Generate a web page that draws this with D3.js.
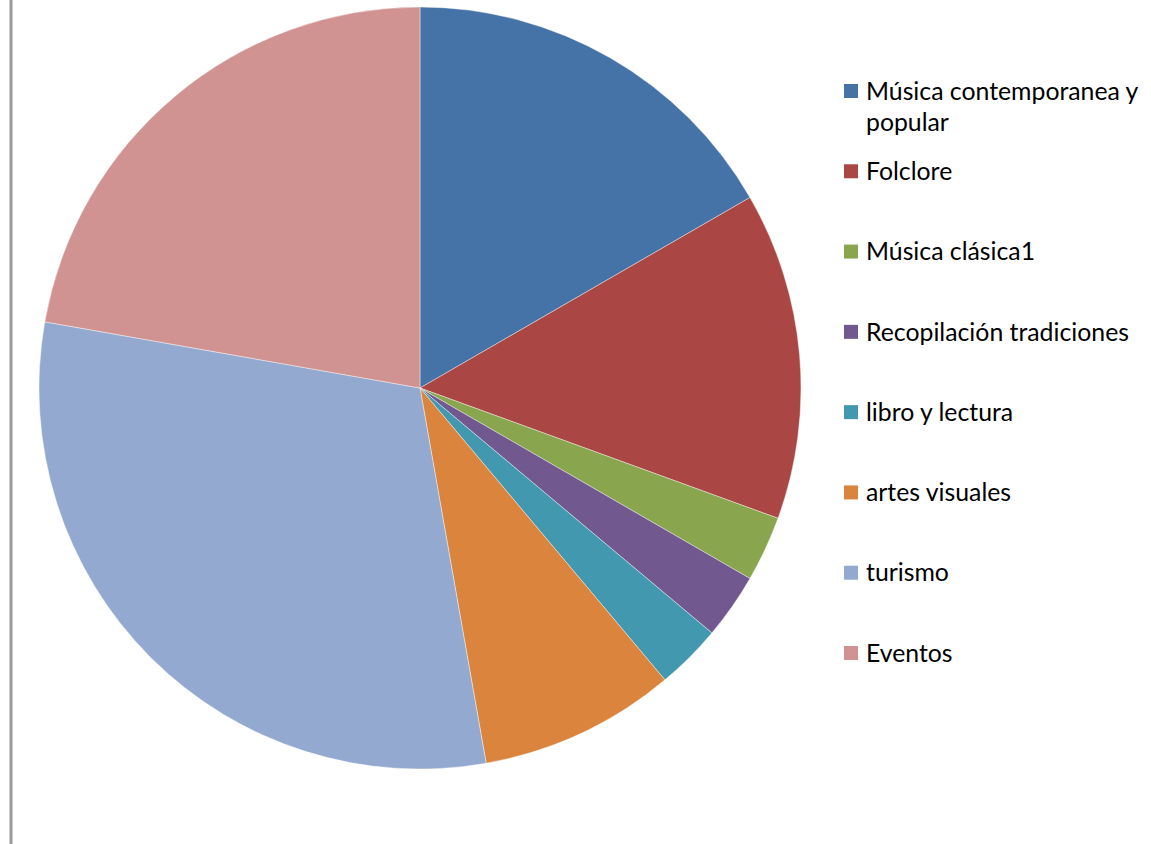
<!DOCTYPE html>
<html>
<head>
<meta charset="utf-8">
<script src="https://cdn.jsdelivr.net/npm/d3@7"></script>
<style>
  body { margin: 0; background: #fff; }
  svg { display: block; }
</style>
</head>
<body>
<script>
// categories and values (counts)
const categories = [
  "Música contemporanea y popular",
  "Folclore",
  "Música clásica1",
  "Recopilación tradiciones",
  "libro y lectura",
  "artes visuales",
  "turismo",
  "Eventos"
]
const values = [6, 5, 1, 1, 1, 3, 11, 8]
const colors = ["#4572A7", "#AA4643", "#89A54E", "#71588F", "#4198AF", "#DB843D", "#93A9CF", "#D19392"]
// legend labels split into lines as in the picture
const legendLines = [
  ["Música contemporanea y", "popular"],
  ["Folclore"],
  ["Música clásica1"],
  ["Recopilación tradiciones"],
  ["libro y lectura"],
  ["artes visuales"],
  ["turismo"],
  ["Eventos"]
]

const width = 1151, height = 844
const cx = 420, cy = 388, radius = 381
const fontSize = 24.8

const data = categories.map((c, i) => ({name: c, value: values[i], color: colors[i], lines: legendLines[i]}))

const svg = d3.select("body").append("svg")
  .attr("width", width)
  .attr("height", height)
  .attr("viewBox", [0, 0, width, height])

// grey frame line on the left
svg.append("line")
  .attr("x1", 11).attr("x2", 11)
  .attr("y1", 0).attr("y2", height)
  .attr("stroke", "#9a9a9a")
  .attr("stroke-width", 3)

const pie = d3.pie().value(d => d.value).sort(null)
const arc = d3.arc().innerRadius(0).outerRadius(radius)

svg.append("g")
  .attr("transform", `translate(${cx},${cy})`)
  .selectAll("path")
  .data(pie(data))
  .join("path")
  .attr("d", arc)
  .attr("fill", d => d.data.color)
  .attr("stroke", "#ffffff")
  .attr("stroke-opacity", 0.5)
  .attr("stroke-width", 0.8)

// legend
const yScale = d3.scalePoint()
  .domain(categories)
  .range([91, 653])

const legend = svg.append("g")
  .attr("font-family", "Lato, 'Open Sans', sans-serif")
  .attr("font-size", fontSize)
  .selectAll("g")
  .data(data)
  .join("g")
  .attr("transform", d => `translate(0,${yScale(d.name)})`)

legend.append("rect")
  .attr("x", 844)
  .attr("y", -7)
  .attr("width", 14)
  .attr("height", 14)
  .attr("fill", d => d.color)

legend.append("text")
  .attr("x", 866)
  .attr("y", 0)
  .attr("fill", "#000")
  .selectAll("tspan")
  .data(d => d.lines)
  .join("tspan")
  .attr("x", 866)
  .attr("dy", (d, i) => i === 0 ? "0.35em" : "1.25em")
  .text(d => d)
</script>
</body>
</html>
